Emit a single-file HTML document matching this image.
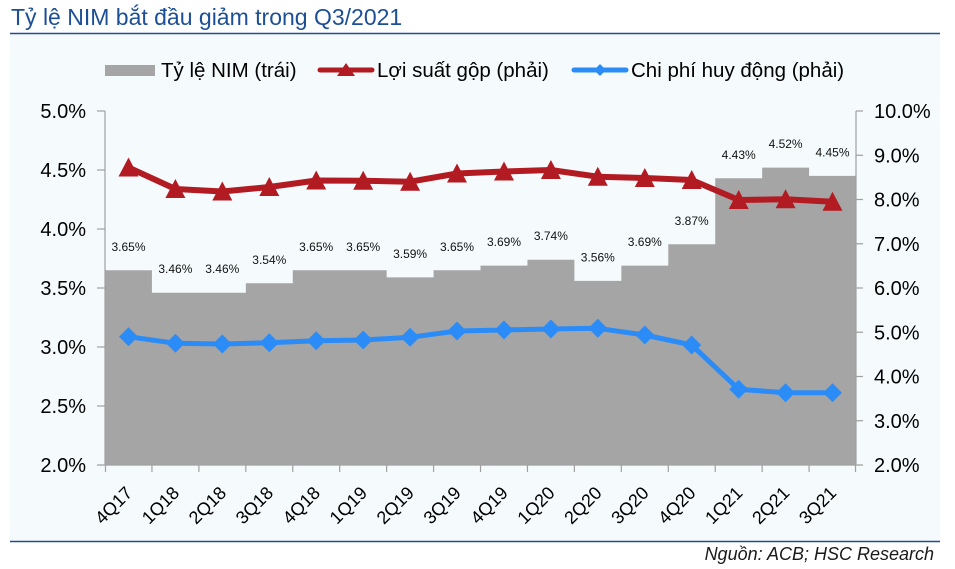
<!DOCTYPE html>
<html>
<head>
<meta charset="utf-8">
<style>
html,body{margin:0;padding:0;background:#fff;}
svg{display:block;font-family:"Liberation Sans","DejaVu Sans",sans-serif;}
</style>
</head>
<body>
<svg width="955" height="569" viewBox="0 0 955 569" xmlns="http://www.w3.org/2000/svg">
  <rect x="0" y="0" width="955" height="569" fill="#ffffff"/>
  <!-- Title -->
  <text x="11" y="25" font-size="23" fill="#1d4f96">Tỷ lệ NIM bắt đầu giảm trong Q3/2021</text>
  <!-- Panel -->
  <rect x="10" y="34" width="930" height="508" fill="#f5fbfd"/>
  <line x1="10" y1="33.5" x2="940" y2="33.5" stroke="#1f4e96" stroke-width="1.6"/>
  <line x1="10" y1="541.5" x2="940" y2="541.5" stroke="#1f4e96" stroke-width="1.6"/>

  <!-- Legend -->
  <rect x="105" y="65" width="50" height="11" fill="#a5a5a5"/>
  <text x="161" y="77" font-size="20.5" fill="#000">Tỷ lệ NIM (trái)</text>
  <line x1="320" y1="70" x2="372" y2="70" stroke="#b31b22" stroke-width="5" stroke-linecap="round"/>
  <polygon points="346,63 355,76 337,76" fill="#b31b22"/>
  <text x="377" y="77" font-size="20.5" fill="#000">Lợi suất gộp (phải)</text>
  <line x1="574" y1="70" x2="626" y2="70" stroke="#2b8cf7" stroke-width="5" stroke-linecap="round"/>
  <polygon points="600,64 606,70 600,76 594,70" fill="#2b8cf7"/>
  <text x="631" y="77" font-size="20.5" fill="#000">Chi phí huy động (phải)</text>

  <!-- Bars (single path, no seams) -->
  <path fill="#a5a5a5" d="M105,465 V270.3 H151.94 V292.7 H245.82 V283.3 H292.76 V270.3 H386.64 V277.4 H433.58 V270.3 H480.52 V265.6 H527.46 V259.7 H574.4 V280.9 H621.34 V265.6 H668.28 V244.3 H715.22 V178.3 H762.16 V167.6 H809.1 V175.9 H856 V465 Z"/>

  <!-- Bar labels -->
  <g font-size="12" fill="#111" text-anchor="middle">
    <text x="128.5" y="250.8">3.65%</text>
    <text x="175.4" y="273.2">3.46%</text>
    <text x="222.3" y="273.2">3.46%</text>
    <text x="269.3" y="263.8">3.54%</text>
    <text x="316.2" y="250.8">3.65%</text>
    <text x="363.2" y="250.8">3.65%</text>
    <text x="410.1" y="257.9">3.59%</text>
    <text x="457.0" y="250.8">3.65%</text>
    <text x="504.0" y="246.1">3.69%</text>
    <text x="550.9" y="240.2">3.74%</text>
    <text x="597.8" y="261.4">3.56%</text>
    <text x="644.8" y="246.1">3.69%</text>
    <text x="691.7" y="224.8">3.87%</text>
    <text x="738.7" y="158.8">4.43%</text>
    <text x="785.6" y="148.1">4.52%</text>
    <text x="832.5" y="156.4">4.45%</text>
  </g>

  <!-- Axes -->
  <g stroke="#a0a0a0" stroke-width="1.2" fill="none">
    <line x1="105" y1="111" x2="105" y2="465"/>
    <line x1="856" y1="111" x2="856" y2="465"/>
    <line x1="97" y1="465" x2="863" y2="465"/>
    <line x1="97" y1="111" x2="105" y2="111"/>
    <line x1="97" y1="170" x2="105" y2="170"/>
    <line x1="97" y1="229" x2="105" y2="229"/>
    <line x1="97" y1="288" x2="105" y2="288"/>
    <line x1="97" y1="347" x2="105" y2="347"/>
    <line x1="97" y1="406" x2="105" y2="406"/>
    <line x1="856" y1="111" x2="863" y2="111"/>
    <line x1="856" y1="155.25" x2="863" y2="155.25"/>
    <line x1="856" y1="199.5" x2="863" y2="199.5"/>
    <line x1="856" y1="243.75" x2="863" y2="243.75"/>
    <line x1="856" y1="288" x2="863" y2="288"/>
    <line x1="856" y1="332.25" x2="863" y2="332.25"/>
    <line x1="856" y1="376.5" x2="863" y2="376.5"/>
    <line x1="856" y1="420.75" x2="863" y2="420.75"/>
    <line x1="105.5" y1="465" x2="105.5" y2="472"/>
    <line x1="151.94" y1="465" x2="151.94" y2="472"/>
    <line x1="198.88" y1="465" x2="198.88" y2="472"/>
    <line x1="245.82" y1="465" x2="245.82" y2="472"/>
    <line x1="292.76" y1="465" x2="292.76" y2="472"/>
    <line x1="339.7" y1="465" x2="339.7" y2="472"/>
    <line x1="386.64" y1="465" x2="386.64" y2="472"/>
    <line x1="433.58" y1="465" x2="433.58" y2="472"/>
    <line x1="480.52" y1="465" x2="480.52" y2="472"/>
    <line x1="527.46" y1="465" x2="527.46" y2="472"/>
    <line x1="574.4" y1="465" x2="574.4" y2="472"/>
    <line x1="621.34" y1="465" x2="621.34" y2="472"/>
    <line x1="668.28" y1="465" x2="668.28" y2="472"/>
    <line x1="715.22" y1="465" x2="715.22" y2="472"/>
    <line x1="762.16" y1="465" x2="762.16" y2="472"/>
    <line x1="809.1" y1="465" x2="809.1" y2="472"/>
    <line x1="855.5" y1="465" x2="855.5" y2="472"/>
  </g>

  <!-- Left axis labels -->
  <g font-size="20" fill="#000" text-anchor="end">
    <text x="86" y="118">5.0%</text>
    <text x="86" y="177">4.5%</text>
    <text x="86" y="236">4.0%</text>
    <text x="86" y="295">3.5%</text>
    <text x="86" y="354">3.0%</text>
    <text x="86" y="413">2.5%</text>
    <text x="86" y="472">2.0%</text>
  </g>
  <!-- Right axis labels -->
  <g font-size="20" fill="#000">
    <text x="874" y="118">10.0%</text>
    <text x="874" y="162.25">9.0%</text>
    <text x="874" y="206.5">8.0%</text>
    <text x="874" y="250.75">7.0%</text>
    <text x="874" y="295">6.0%</text>
    <text x="874" y="339.25">5.0%</text>
    <text x="874" y="383.5">4.0%</text>
    <text x="874" y="427.75">3.0%</text>
    <text x="874" y="472">2.0%</text>
  </g>

  <!-- Red line -->
  <polyline fill="none" stroke="#b31b22" stroke-width="6" stroke-linejoin="round"
    points="128.5,167.5 175.4,189 222.3,191.5 269.3,187 316.2,180.5 363.2,180.7 410.1,181.7 457,173.5 504,171.5 550.9,170 597.8,176.7 644.8,178 691.7,180 738.7,200 785.6,199.3 832.5,201.7"/>
  <g fill="#b31b22">
    <polygon points="128.5,157.5 138.5,176.5 118.5,176.5"/>
    <polygon points="175.4,179 185.4,198 165.4,198"/>
    <polygon points="222.3,181.5 232.3,200.5 212.3,200.5"/>
    <polygon points="269.3,177 279.3,196 259.3,196"/>
    <polygon points="316.2,170.5 326.2,189.5 306.2,189.5"/>
    <polygon points="363.2,170.7 373.2,189.7 353.2,189.7"/>
    <polygon points="410.1,171.7 420.1,190.7 400.1,190.7"/>
    <polygon points="457,163.5 467,182.5 447,182.5"/>
    <polygon points="504,161.5 514,180.5 494,180.5"/>
    <polygon points="550.9,160 560.9,179 540.9,179"/>
    <polygon points="597.8,166.7 607.8,185.7 587.8,185.7"/>
    <polygon points="644.8,168 654.8,187 634.8,187"/>
    <polygon points="691.7,170 701.7,189 681.7,189"/>
    <polygon points="738.7,190 748.7,209 728.7,209"/>
    <polygon points="785.6,189.3 795.6,208.3 775.6,208.3"/>
    <polygon points="832.5,191.7 842.5,210.7 822.5,210.7"/>
  </g>

  <!-- Blue line -->
  <polyline fill="none" stroke="#2b8cf7" stroke-width="5" stroke-linejoin="round"
    points="128.5,336.7 175.4,343.3 222.3,344 269.3,342.7 316.2,340.7 363.2,340 410.1,337.3 457,331 504,330 550.9,329 597.8,328.3 644.8,335 691.7,345 738.7,389.3 785.6,392.7 832.5,392.7"/>
  <g fill="#2b8cf7">
    <polygon points="128.5,327.2 138,336.7 128.5,346.2 119,336.7"/>
    <polygon points="175.4,333.8 184.9,343.3 175.4,352.8 165.9,343.3"/>
    <polygon points="222.3,334.5 231.8,344 222.3,353.5 212.8,344"/>
    <polygon points="269.3,333.2 278.8,342.7 269.3,352.2 259.8,342.7"/>
    <polygon points="316.2,331.2 325.7,340.7 316.2,350.2 306.7,340.7"/>
    <polygon points="363.2,330.5 372.7,340 363.2,349.5 353.7,340"/>
    <polygon points="410.1,327.8 419.6,337.3 410.1,346.8 400.6,337.3"/>
    <polygon points="457,321.5 466.5,331 457,340.5 447.5,331"/>
    <polygon points="504,320.5 513.5,330 504,339.5 494.5,330"/>
    <polygon points="550.9,319.5 560.4,329 550.9,338.5 541.4,329"/>
    <polygon points="597.8,318.8 607.3,328.3 597.8,337.8 588.3,328.3"/>
    <polygon points="644.8,325.5 654.3,335 644.8,344.5 635.3,335"/>
    <polygon points="691.7,335.5 701.2,345 691.7,354.5 682.2,345"/>
    <polygon points="738.7,379.8 748.2,389.3 738.7,398.8 729.2,389.3"/>
    <polygon points="785.6,383.2 795.1,392.7 785.6,402.2 776.1,392.7"/>
    <polygon points="832.5,383.2 842,392.7 832.5,402.2 823,392.7"/>
  </g>

  <!-- X labels -->
  <g font-size="18" fill="#000" text-anchor="end">
    <text transform="translate(133.5,494) rotate(-45)">4Q17</text>
    <text transform="translate(180.4,494) rotate(-45)">1Q18</text>
    <text transform="translate(227.3,494) rotate(-45)">2Q18</text>
    <text transform="translate(274.3,494) rotate(-45)">3Q18</text>
    <text transform="translate(321.2,494) rotate(-45)">4Q18</text>
    <text transform="translate(368.2,494) rotate(-45)">1Q19</text>
    <text transform="translate(415.1,494) rotate(-45)">2Q19</text>
    <text transform="translate(462,494) rotate(-45)">3Q19</text>
    <text transform="translate(509,494) rotate(-45)">4Q19</text>
    <text transform="translate(555.9,494) rotate(-45)">1Q20</text>
    <text transform="translate(602.8,494) rotate(-45)">2Q20</text>
    <text transform="translate(649.8,494) rotate(-45)">3Q20</text>
    <text transform="translate(696.7,494) rotate(-45)">4Q20</text>
    <text transform="translate(743.7,494) rotate(-45)">1Q21</text>
    <text transform="translate(790.6,494) rotate(-45)">2Q21</text>
    <text transform="translate(837.5,494) rotate(-45)">3Q21</text>
  </g>

  <!-- Source -->
  <text x="934" y="560" font-size="18" font-style="italic" fill="#1a1a1a" text-anchor="end">Nguồn: ACB; HSC Research</text>
</svg>
</body>
</html>
